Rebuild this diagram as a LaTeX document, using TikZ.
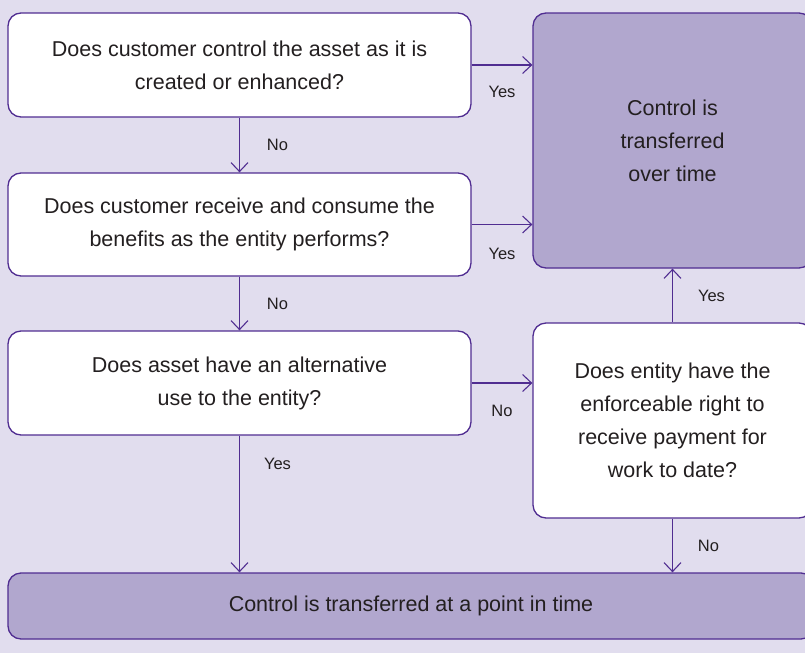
\documentclass[tikz,border=0pt]{standalone}
\usepackage{fontspec}
\setmainfont{Liberation Sans}
\usetikzlibrary{arrows.meta}
\definecolor{bgpurple}{RGB}{225,221,238}
\definecolor{fillpurple}{RGB}{177,167,206}
\definecolor{linepurple}{RGB}{80,45,145}
\definecolor{textgray}{RGB}{35,31,32}
\begin{document}
\begin{tikzpicture}
    [
    x=1pt,y=-1pt,
    question/.style={rectangle,rounded corners=13pt,draw=linepurple,line width=1.3pt,fill=white,
      align=center,text=textgray,inner sep=0pt,font=\fontsize{21.5}{33}\selectfont},
    result/.style={question,fill=fillpurple},
    arr/.style={draw=linepurple,line width=1.1pt,-{Straight Barb[length=9pt,width=17pt]}},
    answer/.style={text=textgray,inner sep=0pt,font=\fontsize{16.5}{19}\selectfont}
    ]
    \useasboundingbox [fill=bgpurple] (0,0) rectangle (805,653);
    \node (q1) at (239.5,65) [question,minimum width=463pt,minimum height=104pt]
      {Does customer control the asset as it is\\created or enhanced?};
    \node (q2) at (239.5,224.5) [question,minimum width=463pt,minimum height=103pt]
      {Does customer receive and consume the\\benefits as the entity performs?};
    \node (q3) at (239.5,383) [question,minimum width=463pt,minimum height=104pt]
      {Does asset have an alternative\\use to the entity?};
    \node (q4) at (672.5,420.5) [question,minimum width=279pt,minimum height=195pt]
      {Does entity have the\\enforceable right to\\receive payment for\\work to date?};
    \node (overtime) at (672.5,140.5) [result,minimum width=279pt,minimum height=255pt]
      {Control is\\transferred\\over time};
    \node (pointtime) at (411,606) [result,minimum width=806pt,minimum height=66pt]
      {Control is transferred at a point in time};
    \draw [arr] (q1) -- (q2) node [answer,midway,xshift=38pt] {No};
    \draw [arr] (q2) -- (q3) node [answer,midway,xshift=38pt] {No};
    \draw [arr] (q3) -- (q3 |- pointtime.north) node [answer,midway,xshift=38pt,yshift=40pt] {Yes};
    \draw [arr] (q1) -- (q1 -| overtime.west) node [answer,midway,yshift=-27pt] {Yes};
    \draw [arr] (q2) -- (q2 -| overtime.west) node [answer,midway,yshift=-29pt] {Yes};
    \draw [arr] (q3) -- (q3 -| q4.west) node [answer,midway,yshift=-28pt] {No};
    \draw [arr] (q4) -- (overtime) node [answer,midway,xshift=39pt] {Yes};
    \draw [arr] (q4) -- (q4 |- pointtime.north) node [answer,midway,xshift=36pt] {No};
  \end{tikzpicture}
\end{document}
